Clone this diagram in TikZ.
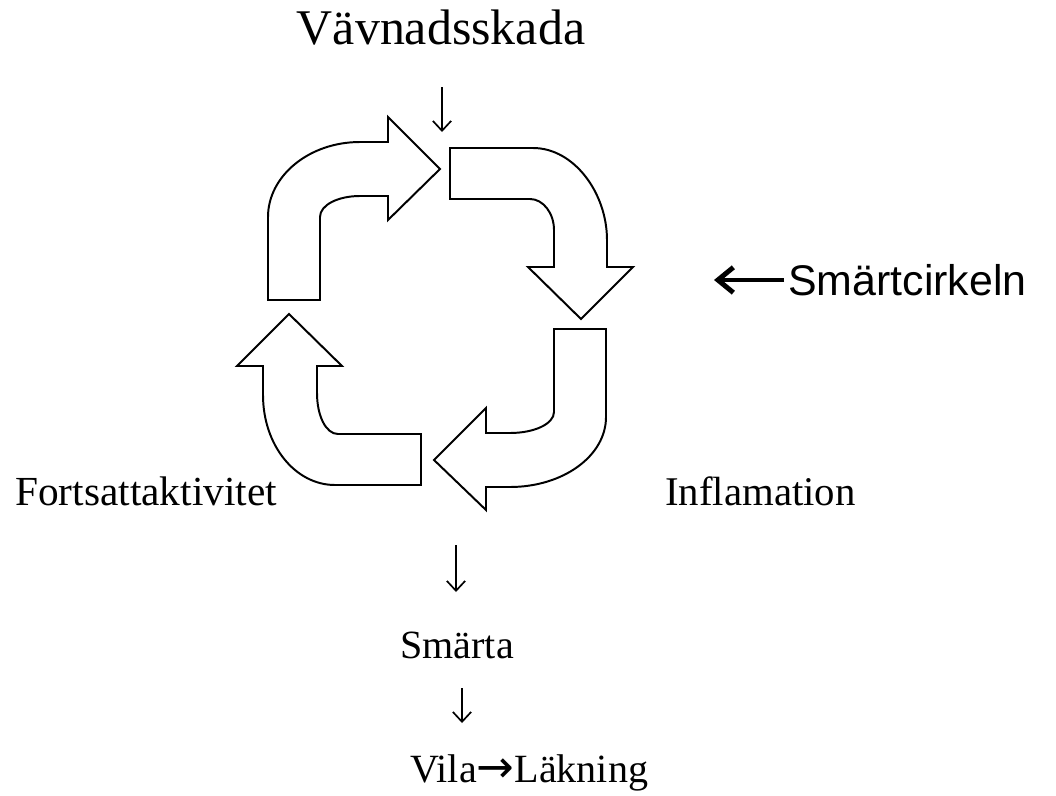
\documentclass[tikz,border=0pt]{standalone}
\usepackage{fontspec}
\setmainfont{Liberation Serif}
\newfontfamily\arialfont{Liberation Sans}
\newfontfamily\arrowfont{DejaVu Sans}
\usetikzlibrary{arrows.meta}

\begin{document}
\begin{tikzpicture}
	  [x=0.025cm,y=-0.025cm,
	   bent/.style={draw, line width=1.4pt, line join=miter, fill=white},
	   lbl/.style={inner sep=0pt, anchor=base west},
	   dn/.style={line width=1.2pt, -{Straight Barb[length=7pt,width=13pt]}},
	   every path/.style={>=latex}]
	  \useasboundingbox (0,0) rectangle (1056,795);

	  % the four bent arrows of the circle
	  \draw[bent] (268,300) -- (268,217) .. controls (268,176) and (309,142) .. (360,142)
	    -- (388,142) -- (388,117) -- (440,169) -- (388,220) -- (388,196) -- (360,196)
	    .. controls (338,196) and (320,205) .. (320,217) -- (320,300) -- cycle;
	  \draw[bent] (450,148) -- (533,148) .. controls (574,148) and (607,193) .. (607,240)
	    -- (607,267) -- (633,267) -- (581,319) -- (528,267) -- (554,267) -- (554,230)
	    .. controls (554,213) and (543,199) .. (530,199) -- (450,199) -- cycle;
	  \draw[bent] (606,329) -- (606,417) .. controls (606,456) and (563,487) .. (510,487)
	    -- (486,487) -- (486,510) -- (434,460) -- (486,408) -- (486,433) -- (510,433)
	    .. controls (534,433) and (554,424) .. (554,412) -- (554,329) -- cycle;
	  \draw[bent] (421,434) -- (338,434) .. controls (326,434) and (317,416) .. (317,393)
	    -- (317,366) -- (342,366) -- (289,314) -- (237,366) -- (263,366) -- (263,395)
	    .. controls (263,445) and (295,485) .. (335,485) -- (421,485) -- cycle;

	  % texts
	  \node[inner sep=0pt, anchor=base] (vav) at (441,45) {\fontsize{35.5}{40}\selectfont Vävnadsskada};
	  \node[lbl] (fort) at (15,505) {\fontsize{29.4}{34}\selectfont Fortsattaktivitet};
	  \node[lbl] (infl) at (665,505) {\fontsize{29}{34}\selectfont Inflamation};
	  \node[lbl] (smarta) at (400,658) {\fontsize{28.5}{34}\selectfont Smärta};
	  \node[lbl] (vila) at (410,782) {\fontsize{28.5}{34}\selectfont Vila{\arrowfont\fontsize{32}{36}\selectfont→}Läkning};
	  \node[lbl] (cirkel) at (788,295) {\arialfont\fontsize{30.5}{36}\selectfont Smärtcirkeln};

	  % arrow ends
	  \coordinate (a1) at (442,87);  \coordinate (b1) at (442,132);
	  \coordinate (a2) at (456,545); \coordinate (b2) at (456,592);
	  \coordinate (a3) at (462,688); \coordinate (b3) at (462,723);
	  \coordinate (ct) at (714,280);

	  \foreach \from/\to in {a1/b1,a2/b2,a3/b3}
	    \draw[dn] (\from) -- (\to);
	  \draw[line width=3.5pt, -{Straight Barb[length=11pt,width=18pt]}] (cirkel.west |- ct) ++(-4,0) -- (ct);
	\end{tikzpicture}
\end{document}
